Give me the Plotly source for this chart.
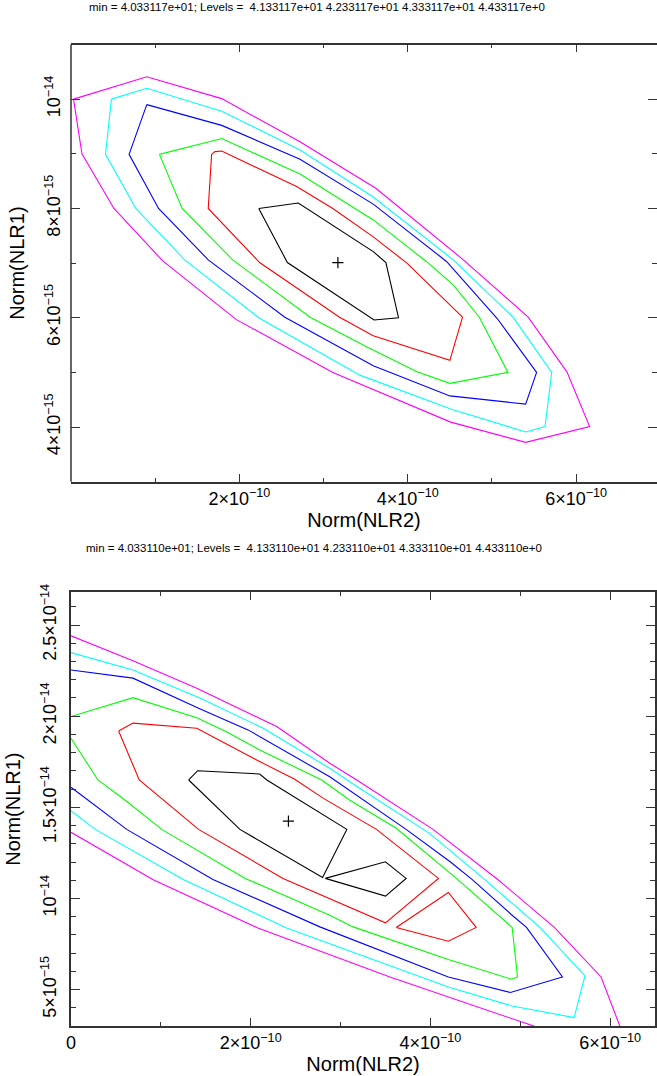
import plotly.graph_objects as go

W, H = 657, 1076
XS, YS = 1e-10, 1e-15   # units of the stored numbers

# ---------------- top panel (x in 1e-10, y in 1e-15) ----------------
top_black_x = [2.23, 2.70, 3.59, 3.74, 3.89, 3.60, 2.57, 2.23]
top_black_y = [8.00, 8.10, 7.21, 7.01, 6.00, 5.96, 7.01, 8.00]

top_red_x = [1.67, 1.71, 1.79, 2.68, 3.11, 3.59, 3.99, 4.48, 4.65, 4.50, 3.59, 3.19, 2.24, 1.63, 1.67]
top_red_y = [8.99, 9.04, 9.05, 8.40, 8.00, 7.48, 7.00, 6.26, 6.01, 5.22, 5.67, 6.01, 7.01, 8.00, 8.99]

top_green_x = [1.05, 1.79, 2.72, 3.59, 4.22, 4.54, 4.85, 5.19, 4.50, 4.11, 3.51, 2.84, 1.92, 1.32, 1.05]
top_green_y = [8.99, 9.28, 8.63, 7.79, 7.03, 6.60, 6.01, 5.00, 4.80, 5.01, 5.47, 6.01, 7.06, 8.00, 8.99]

top_blue_x = [0.90, 1.79, 2.72, 3.59, 4.46, 5.06, 5.53, 5.40, 4.50, 3.59, 2.54, 1.63, 1.04, 0.69, 0.90]
top_blue_y = [9.90, 9.52, 8.90, 8.08, 7.03, 5.99, 5.00, 4.42, 4.57, 5.12, 6.01, 7.06, 8.00, 8.99, 9.90]

top_cyan_x = [0.48, 0.90, 1.79, 2.72, 3.59, 4.54, 5.25, 5.71, 5.63, 5.40, 4.51, 3.43, 2.24, 1.35, 0.77, 0.41, 0.48]
top_cyan_y = [10.00, 10.20, 9.78, 9.07, 8.21, 7.06, 6.01, 5.00, 4.01, 3.91, 4.33, 4.95, 5.99, 7.06, 8.00, 8.99, 10.00]

top_magenta_x = [0.03, 0.90, 1.79, 2.72, 3.62, 4.66, 5.43, 5.89, 6.16, 5.40, 4.51, 3.11, 1.96, 1.09, 0.51, 0.13, 0.03]
top_magenta_y = [10.00, 10.41, 10.01, 9.22, 8.37, 7.06, 6.01, 5.01, 4.01, 3.72, 4.09, 5.00, 5.97, 7.04, 8.00, 9.00, 10.00]

top_best_x = [3.17]
top_best_y = [7.01]

# ---------------- bottom panel (x in 1e-10, y in 1e-15) ----------------
bot_black_x = [1.31, 1.41, 2.10, 2.18, 3.07, 2.80, 1.88, 1.31]
bot_black_y = [16.50, 17.01, 16.83, 16.50, 13.79, 11.15, 13.79, 16.50]
bot_black2_x = [2.83, 3.50, 3.73, 3.50, 2.83]
bot_black2_y = [11.10, 12.01, 11.10, 10.13, 11.10]

bot_red_x = [0.53, 0.69, 1.40, 2.10, 2.49, 2.81, 3.40, 4.09, 3.50, 2.36, 1.42, 1.03, 0.76, 0.53]
bot_red_y = [19.19, 19.62, 19.34, 17.51, 16.54, 15.49, 13.79, 11.10, 8.66, 11.10, 13.79, 15.40, 16.50, 19.19]
bot_red2_x = [3.62, 4.20, 4.51, 4.20, 3.62]
bot_red2_y = [8.41, 10.33, 8.41, 7.65, 8.41]

bot_green_x = [0, 0.69, 1.40, 1.73, 2.10, 2.44, 2.79, 3.10, 3.62, 4.29, 4.91, 4.97, 4.90, 4.20, 3.14, 2.88, 1.94, 1.01, 0.60, 0.30, 0]
bot_green_y = [19.98, 21.02, 19.92, 19.15, 18.15, 17.32, 16.50, 15.40, 13.85, 11.10, 8.41, 5.69, 5.57, 6.65, 8.44, 9.08, 11.10, 13.79, 15.40, 16.50, 18.79]

bot_blue_x = [0, 0.69, 1.42, 1.97, 2.88, 3.73, 4.22, 4.46, 4.90, 5.07, 5.47, 4.89, 4.20, 2.77, 1.58, 0.62, 0]
bot_blue_y = [22.54, 22.09, 20.44, 19.25, 16.68, 13.79, 12.01, 11.06, 9.12, 8.41, 5.69, 4.84, 5.69, 8.44, 11.04, 13.79, 16.10]

bot_cyan_x = [0, 0.69, 1.44, 2.14, 2.88, 3.14, 3.99, 4.59, 5.22, 5.72, 5.60, 4.91, 4.20, 2.40, 1.25, 0.27, 0]
bot_cyan_y = [23.49, 22.54, 20.99, 19.34, 17.14, 16.28, 13.57, 11.10, 8.41, 5.75, 3.46, 4.10, 5.14, 8.38, 11.04, 13.79, 14.81]

bot_magenta_x = [0, 0.69, 1.40, 2.29, 2.88, 3.18, 4.03, 4.75, 5.38, 5.90, 6.11]
bot_magenta_y = [24.41, 23.04, 21.54, 19.43, 17.42, 16.50, 13.79, 11.04, 8.41, 5.69, 2.98]
bot_magenta2_x = [0, 0.92, 2.08, 3.55, 5.16]
bot_magenta2_y = [13.63, 11.01, 8.38, 5.69, 2.98]

bot_best_x = [2.42]
bot_best_y = [14.24]

# ---------------- text ----------------
title_top = "min = 4.033117e+01; Levels = \u00a04.133117e+01 4.233117e+01 4.333117e+01 4.433117e+0"
title_bot = "min = 4.033110e+01; Levels = \u00a04.133110e+01 4.233110e+01 4.333110e+01 4.433110e+0"
x_label = "Norm(NLR2)"
y_label = "Norm(NLR1)"

top_xtick_vals = [2, 4, 6]
top_xtick_text = ["2\u00d710<sup>\u221210</sup>", "4\u00d710<sup>\u221210</sup>", "6\u00d710<sup>\u221210</sup>"]
top_ytick_vals = [4, 6, 8, 10]
top_ytick_text = ["4\u00d710<sup>\u221215</sup>", "6\u00d710<sup>\u221215</sup>", "8\u00d710<sup>\u221215</sup>", "10<sup>\u221214</sup>"]
bot_xtick_vals = [0, 2, 4, 6]
bot_xtick_text = ["0", "2\u00d710<sup>\u221210</sup>", "4\u00d710<sup>\u221210</sup>", "6\u00d710<sup>\u221210</sup>"]
bot_ytick_vals = [5, 10, 15, 20, 25]
bot_ytick_text = ["5\u00d710<sup>\u221215</sup>", "10<sup>\u221214</sup>", "1.5\u00d710<sup>\u221214</sup>",
                  "2\u00d710<sup>\u221214</sup>", "2.5\u00d710<sup>\u221214</sup>"]

COL = {"black": "#000000", "red": "#ff0000", "green": "#00ff00", "blue": "#0000ff",
       "cyan": "#00ffff", "magenta": "#ff00ff"}

fig = go.Figure()


def sx(v):
    return [None if a is None else a * XS for a in v]


def sy(v):
    return [None if a is None else a * YS for a in v]


def add_line(xs, ys, color, xa, ya):
    fig.add_trace(go.Scatter(x=sx(xs), y=sy(ys), mode="lines",
                             line=dict(color=color, width=1.1),
                             xaxis=xa, yaxis=ya, showlegend=False, hoverinfo="skip"))


def add_best(xs, ys, xa, ya):
    fig.add_trace(go.Scatter(x=sx(xs), y=sy(ys), mode="markers",
                             marker=dict(symbol="cross-thin", size=8, line=dict(color="black", width=1.2)),
                             xaxis=xa, yaxis=ya, showlegend=False, hoverinfo="skip"))


for xs, ys, c in [(top_magenta_x, top_magenta_y, "magenta"), (top_cyan_x, top_cyan_y, "cyan"),
                  (top_blue_x, top_blue_y, "blue"), (top_green_x, top_green_y, "green"),
                  (top_red_x, top_red_y, "red"), (top_black_x, top_black_y, "black")]:
    add_line(xs, ys, COL[c], "x", "y")
add_best(top_best_x, top_best_y, "x", "y")

for xs, ys, c in [(bot_magenta_x, bot_magenta_y, "magenta"), (bot_magenta2_x, bot_magenta2_y, "magenta"),
                  (bot_cyan_x, bot_cyan_y, "cyan"), (bot_blue_x, bot_blue_y, "blue"),
                  (bot_green_x, bot_green_y, "green"), (bot_red_x, bot_red_y, "red"),
                  (bot_red2_x, bot_red2_y, "red"), (bot_black_x, bot_black_y, "black"),
                  (bot_black2_x, bot_black2_y, "black")]:
    add_line(xs, ys, COL[c], "x2", "y2")
add_best(bot_best_x, bot_best_y, "x2", "y2")

FONT = "Liberation Sans, Arial, sans-serif"
TICKF = dict(family=FONT, size=18, color="black")
TITLEF = dict(family=FONT, size=20, color="black")
LINEC = "#333333"


def xaxis(domain, rng, vals, text, minor_vals, anchor):
    return dict(domain=domain, range=[rng[0] * XS, rng[1] * XS], anchor=anchor, automargin=False,
                tickmode="array", tickvals=[v * XS for v in vals], ticktext=text,
                ticks="inside", ticklen=8, tickwidth=1, tickcolor=LINEC,
                minor=dict(tickmode="array", tickvals=[v * XS for v in minor_vals],
                           ticks="inside", ticklen=4, tickwidth=1, tickcolor=LINEC, showgrid=False),
                showline=True, linecolor=LINEC, linewidth=1.5, mirror="ticks",
                showgrid=False, zeroline=False, tickfont=TICKF,
                title=dict(text=x_label, font=TITLEF, standoff=1))


def yaxis(domain, rng, vals, text, minor_vals, anchor, showline):
    return dict(domain=domain, range=[rng[0] * YS, rng[1] * YS], anchor=anchor, automargin=False,
                tickmode="array", tickvals=[v * YS for v in vals], ticktext=text, tickangle=-90,
                ticklabelstandoff=6,
                ticks="inside", ticklen=9, tickwidth=1, tickcolor=LINEC,
                minor=dict(tickmode="array", tickvals=[v * YS for v in minor_vals],
                           ticks="inside", ticklen=5, tickwidth=1, tickcolor=LINEC, showgrid=False),
                showline=showline, linecolor=LINEC, linewidth=1.5, mirror="ticks",
                showgrid=False, zeroline=False, tickfont=TICKF,
                title=dict(text=y_label, font=TITLEF, standoff=11))


fig.update_layout(
    width=W, height=H, autosize=False,
    margin=dict(l=0, r=0, t=0, b=0, autoexpand=False),
    paper_bgcolor="white", plot_bgcolor="white",
    font=dict(family=FONT, color="black"),
    xaxis=xaxis([71 / W, 1.0], [0, 6.96], top_xtick_vals, top_xtick_text, [1, 3, 5], "y"),
    yaxis=yaxis([(H - 481.7) / H, (H - 44.5) / H], [3, 11], top_ytick_vals, top_ytick_text,
                [3, 5, 7, 9], "x", False),
    xaxis2=xaxis([71 / W, 655 / W], [0, 6.5], bot_xtick_vals, bot_xtick_text, [1, 3, 5], "y2"),
    yaxis2=yaxis([(H - 1026) / H, (H - 592.3) / H], [3, 26.8], bot_ytick_vals, bot_ytick_text,
                 [v for v in range(4, 27) if v % 5], "x2", True),
    shapes=[dict(type="line", xref="x domain", yref="y domain", x0=0, x1=0, y0=0, y1=1,
                 line=dict(color=LINEC, width=1.5))],
    annotations=[
        dict(text=title_top, xref="paper", yref="paper", x=87 / W, y=1 - 7 / H,
             xanchor="left", yanchor="middle", showarrow=False,
             font=dict(family=FONT, size=11.5, color="black")),
        dict(text=title_bot, xref="paper", yref="paper", x=84 / W, y=1 - 548 / H,
             xanchor="left", yanchor="middle", showarrow=False,
             font=dict(family=FONT, size=11.5, color="black")),
    ],
)

fig.write_html("out.html", config={"displayModeBar": False},
               post_script="document.body.style.margin='0';")
